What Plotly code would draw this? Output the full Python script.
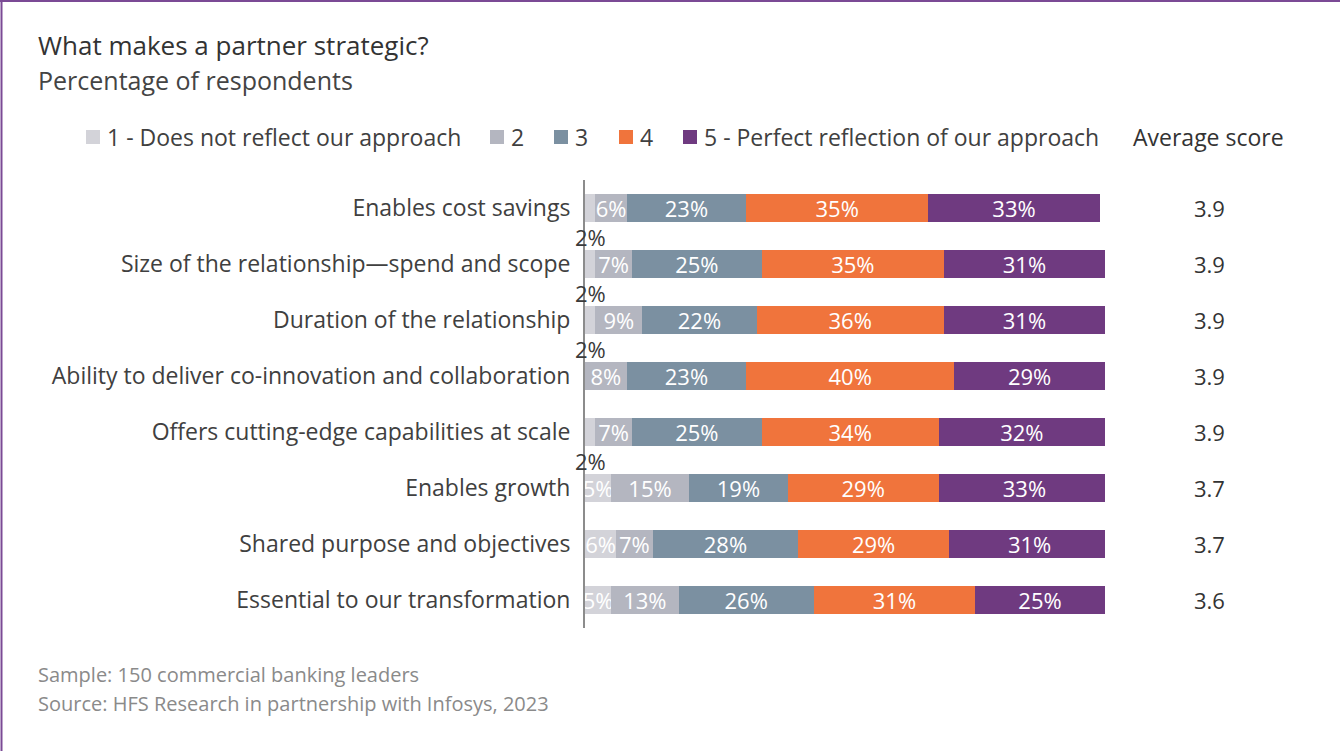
import plotly.graph_objects as go

# Survey data (percent of respondents per rating), top row first
categories = [
    "Enables cost savings",
    "Size of the relationship\u2014spend and scope",
    "Duration of the relationship",
    "Ability to deliver co-innovation and collaboration",
    "Offers cutting-edge capabilities at scale",
    "Enables growth",
    "Shared purpose and objectives",
    "Essential to our transformation",
]
rating_1 = [2, 2, 2, 0, 2, 5, 6, 5]
rating_2 = [6, 7, 9, 8, 7, 15, 7, 13]
rating_3 = [23, 25, 22, 23, 25, 19, 28, 26]
rating_4 = [35, 35, 36, 40, 34, 29, 29, 31]
rating_5 = [33, 31, 31, 29, 32, 33, 31, 25]
average_score = [3.9, 3.9, 3.9, 3.9, 3.9, 3.7, 3.7, 3.6]

series_names = [
    "1 - Does not reflect our approach",
    "2",
    "3",
    "4",
    "5 - Perfect reflection of our approach",
]
series_values = [rating_1, rating_2, rating_3, rating_4, rating_5]
series_colors = ["#d3d3d9", "#b4b6c0", "#7b90a1", "#f0743c", "#6f3a80"]

W, H = 1340, 751
L, R, T, B = 585, 235, 180, 123
PW, PH = W - L - R, H - T - B

FONT = "Open Sans"
DARK = "#404040"
SMALL_SEG = 3  # segments narrower than this get their label placed under the bar

# key row layout: left edge of each swatch in pixels
KEY_Y = 137
KEY_SWATCH_X = [86, 490, 554, 619, 683]
KEY_SWATCH = 14


def px_x(x):
    return (x - L) / PW


def px_y(y):
    return 1 - (y - T) / PH


def note(text, x, y, size, color, xanchor="left"):
    return dict(
        x=px_x(x), y=px_y(y), xref="paper", yref="paper",
        xanchor=xanchor, yanchor="middle",
        text=text, showarrow=False,
        font=dict(family=FONT, size=size, color=color),
    )


fig = go.Figure()

for name, vals, color in zip(series_names, series_values, series_colors):
    labels = [f"{v}%" if v >= SMALL_SEG else "" for v in vals]
    fig.add_trace(
        go.Bar(
            y=categories,
            x=vals,
            name=name,
            orientation="h",
            marker=dict(color=color, line=dict(width=0)),
            text=labels,
            textposition="inside",
            insidetextanchor="middle",
            textangle=0,
            constraintext="none",
            textfont=dict(family=FONT, size=22, color="white"),
            cliponaxis=True,
            hoverinfo="skip",
            showlegend=False,
        )
    )

annotations = []
shapes = []

# labels for very thin first segments, placed just below their bar
for cat, v in zip(categories, rating_1):
    if 0 < v < SMALL_SEG:
        annotations.append(
            dict(
                x=v / 2, y=cat, xref="x", yref="y",
                xanchor="center", yanchor="middle",
                text=f"{v}%", showarrow=False, yshift=-29,
                font=dict(family=FONT, size=22, color="#3a3a3a"),
            )
        )

# colour key across the top
for name, color, sx in zip(series_names, series_colors, KEY_SWATCH_X):
    shapes.append(
        dict(type="rect", xref="paper", yref="paper",
             x0=px_x(sx), x1=px_x(sx + KEY_SWATCH),
             y0=px_y(KEY_Y - KEY_SWATCH / 2), y1=px_y(KEY_Y + KEY_SWATCH / 2),
             fillcolor=color, line=dict(width=0))
    )
    annotations.append(note(name, sx + KEY_SWATCH + 5, KEY_Y, 23, DARK))

# average score column
annotations.append(note("Average score", 1208, 137, 23, "#333333", xanchor="center"))
for cat, s in zip(categories, average_score):
    annotations.append(
        dict(
            x=px_x(1209), y=cat, xref="paper", yref="y",
            xanchor="center", yanchor="middle",
            text=f"{s:.1f}", showarrow=False,
            font=dict(family=FONT, size=22, color="#333333"),
        )
    )

# title, subtitle and notes
annotations += [
    note("What makes a partner strategic?", 36, 45, 26, "#333333"),
    note("Percentage of respondents", 36, 80, 25, "#444444"),
    note("Sample: 150 commercial banking leaders", 36, 674, 20, "#8a8a8a"),
    note("Source: HFS Research in partnership with Infosys, 2023", 36, 703, 20, "#8a8a8a"),
]

# purple frame along the top and left edges
shapes += [
    dict(type="line", xref="paper", yref="paper",
         x0=px_x(0), x1=px_x(W), y0=px_y(1), y1=px_y(1),
         line=dict(color="#7b4a95", width=2)),
    dict(type="line", xref="paper", yref="paper",
         x0=px_x(1.5), x1=px_x(1.5), y0=px_y(0), y1=px_y(H),
         line=dict(color="#7b4a95", width=2)),
]

fig.update_layout(
    width=W, height=H,
    margin=dict(l=L, r=R, t=T, b=B, pad=0, autoexpand=False),
    barmode="stack",
    bargap=0.5,
    plot_bgcolor="white",
    paper_bgcolor="white",
    font=dict(family=FONT, color=DARK),
    showlegend=False,
    xaxis=dict(range=[0, 100], visible=False, fixedrange=True),
    yaxis=dict(
        range=[len(categories) - 0.5, -0.5],
        showline=True, linecolor="#8c8c8c", linewidth=2,
        showgrid=False, zeroline=False,
        ticks="", ticklabelstandoff=8,
        tickfont=dict(family=FONT, size=23, color=DARK),
        fixedrange=True,
    ),
    annotations=annotations,
    shapes=shapes,
)

fig.write_html("out.html", config=dict(displayModeBar=False))
